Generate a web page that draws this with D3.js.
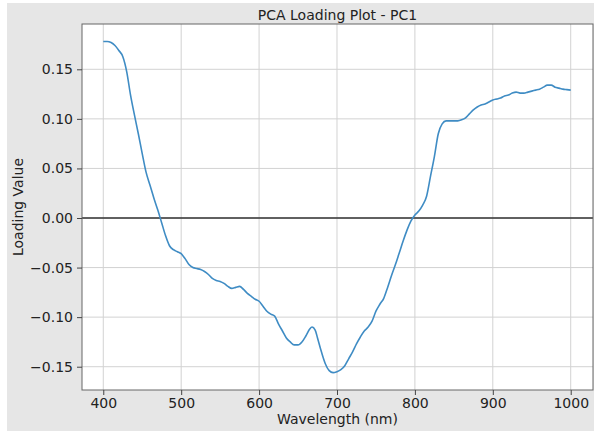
<!DOCTYPE html>
<html>
<head>
<meta charset="utf-8">
<script src="https://cdn.jsdelivr.net/npm/d3@7"></script>
<style>
  body { margin: 0; background: #fff; }
  svg { display: block; font-family: "DejaVu Sans", sans-serif; }
</style>
</head>
<body>
<div id="chart"></div>
<script>
// wavelengths (nm) and PC1 loading values
const wavelengths = [
  400, 405, 410, 415, 420, 425, 430, 435, 440, 445, 450, 455, 460, 465, 470, 475,
  480, 485, 490, 495, 500, 505, 510, 515, 520, 525, 530, 535, 540, 545, 550, 555,
  560, 565, 570, 575, 580, 585, 590, 595, 600, 605, 610, 615, 620, 625, 630, 635,
  640, 645, 650, 655, 660, 665, 668, 672, 675, 680, 685, 690, 695, 700, 705, 710,
  715, 720, 725, 730, 735, 740, 745, 750, 755, 760, 765, 770, 775, 780, 785, 790,
  795, 800, 805, 810, 815, 820, 825, 830, 835, 840, 845, 850, 855, 860, 865, 870,
  875, 880, 885, 890, 895, 900, 905, 910, 915, 920, 925, 930, 935, 940, 945, 950,
  955, 960, 965, 970, 975, 980, 985, 990, 995, 1000
];
const loadings = [
  0.178, 0.178, 0.177, 0.174, 0.169, 0.163, 0.148, 0.124, 0.104, 0.085, 0.065, 0.046,
  0.033, 0.020, 0.008, -0.005, -0.018, -0.028, -0.032, -0.034, -0.036, -0.041, -0.047,
  -0.050, -0.051, -0.052, -0.054, -0.057, -0.061, -0.063, -0.064, -0.066, -0.069,
  -0.071, -0.070, -0.069, -0.072, -0.076, -0.079, -0.082, -0.084, -0.089, -0.094,
  -0.097, -0.099, -0.107, -0.114, -0.121, -0.125, -0.128, -0.128, -0.125, -0.119,
  -0.112, -0.110, -0.113, -0.121, -0.135, -0.147, -0.154, -0.156, -0.155, -0.153,
  -0.149, -0.142, -0.135, -0.127, -0.120, -0.114, -0.110, -0.104, -0.094, -0.087,
  -0.081, -0.070, -0.058, -0.047, -0.035, -0.023, -0.012, -0.003, 0.003, 0.007, 0.013,
  0.022, 0.042, 0.062, 0.085, 0.095, 0.098, 0.098, 0.098, 0.098, 0.099, 0.101, 0.105,
  0.109, 0.112, 0.114, 0.115, 0.117, 0.119, 0.120, 0.121, 0.123, 0.124, 0.126, 0.127,
  0.126, 0.126, 0.127, 0.128, 0.129, 0.130, 0.132, 0.134, 0.134, 0.132, 0.131, 0.130,
  0.1295, 0.129
];
const xTicks = [400, 500, 600, 700, 800, 900, 1000];
const yTicks = [-0.15, -0.10, -0.05, 0.00, 0.05, 0.10, 0.15];

const W = 594, H = 431;
const plot = { left: 82, top: 24, right: 593, bottom: 390 };

const svg = d3.select("#chart").append("svg")
  .attr("width", W)
  .attr("height", H);

// figure background
svg.append("rect")
  .attr("x", 7).attr("y", 3)
  .attr("width", W - 7).attr("height", H - 3)
  .attr("fill", "#e6e6e6");

svg.append("rect")
  .attr("x", plot.left).attr("y", plot.top)
  .attr("width", plot.right - plot.left)
  .attr("height", plot.bottom - plot.top)
  .attr("fill", "#fff");

const x = d3.scaleLinear().domain([372.7, 1028.6]).range([plot.left, plot.right]);
const y = d3.scaleLinear().domain([-0.1735, 0.1957]).range([plot.bottom, plot.top]);

// grid
svg.append("g")
  .selectAll("line")
  .data(xTicks)
  .join("line")
  .attr("x1", d => x(d)).attr("x2", d => x(d))
  .attr("y1", plot.top).attr("y2", plot.bottom)
  .attr("stroke", "#d2d2d2")
  .attr("stroke-width", 1);

svg.append("g")
  .selectAll("line")
  .data(yTicks)
  .join("line")
  .attr("x1", plot.left).attr("x2", plot.right)
  .attr("y1", d => y(d)).attr("y2", d => y(d))
  .attr("stroke", "#d2d2d2")
  .attr("stroke-width", 1);

// zero line
svg.append("line")
  .attr("x1", plot.left).attr("x2", plot.right)
  .attr("y1", y(0)).attr("y2", y(0))
  .attr("stroke", "#333")
  .attr("stroke-width", 1.6);

// loading curve
const data = wavelengths.map((w, i) => ({ w, v: loadings[i] }));
const line = d3.line()
  .x(d => x(d.w))
  .y(d => y(d.v))
  .curve(d3.curveMonotoneX);

svg.append("path")
  .datum(data)
  .attr("d", line)
  .attr("fill", "none")
  .attr("stroke", "#3f8cc4")
  .attr("stroke-width", 1.6);

// frame
svg.append("rect")
  .attr("x", plot.left).attr("y", plot.top)
  .attr("width", plot.right - plot.left)
  .attr("height", plot.bottom - plot.top)
  .attr("fill", "none")
  .attr("stroke", "#666")
  .attr("stroke-width", 1);

// axes
const xAxis = svg.append("g")
  .attr("transform", `translate(0,${plot.bottom})`)
  .call(d3.axisBottom(x).tickValues(xTicks).tickSize(5).tickPadding(3).tickFormat(d3.format("d")));
const yAxis = svg.append("g")
  .attr("transform", `translate(${plot.left},0)`)
  .call(d3.axisLeft(y).tickValues(yTicks).tickSize(5).tickPadding(4)
    .tickFormat(d => d3.format(".2f")(d).replace("-", "\u2212")));

[xAxis, yAxis].forEach(g => {
  g.select(".domain").remove();
  g.selectAll(".tick line").attr("stroke", "#444");
  g.selectAll(".tick text")
    .attr("fill", "#222")
    .style("font-size", "14px")
    .style("font-family", "DejaVu Sans");
});

// labels
svg.append("text")
  .attr("x", (plot.left + plot.right) / 2)
  .attr("y", 20)
  .attr("text-anchor", "middle")
  .attr("fill", "#222")
  .style("font-size", "14px")
  .text("PCA Loading Plot - PC1");

svg.append("text")
  .attr("x", (plot.left + plot.right) / 2)
  .attr("y", 424)
  .attr("text-anchor", "middle")
  .attr("fill", "#222")
  .style("font-size", "14px")
  .text("Wavelength (nm)");

svg.append("text")
  .attr("transform", `translate(23,${(plot.top + plot.bottom) / 2}) rotate(-90)`)
  .attr("text-anchor", "middle")
  .attr("fill", "#222")
  .style("font-size", "14px")
  .text("Loading Value");
</script>
</body>
</html>
